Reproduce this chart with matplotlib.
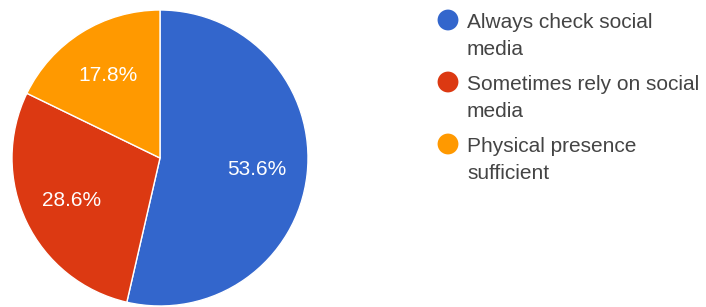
import matplotlib
matplotlib.use("Agg")
import matplotlib.pyplot as plt

labels = ["Always check social\nmedia", "Sometimes rely on social\nmedia", "Physical presence\nsufficient"]
values = [53.6, 28.6, 17.8]
colors = ["#3366cc", "#dc3912", "#ff9900"]

plt.rcParams['font.family'] = ['Liberation Sans', 'DejaVu Sans']

fig = plt.figure(figsize=(7.06, 3.07), dpi=100)

# pie: center ~ (160,159) px, radius ~148 px
ax = fig.add_axes([12/706, 1/307, 296/706, 296/307])
wedges, texts, autotexts = ax.pie(values, colors=colors, startangle=90, counterclock=False,
                                  autopct='%.1f%%', pctdistance=0.66,
                                  wedgeprops=dict(edgecolor='white', linewidth=1))
for t in autotexts:
    t.set_color('white')
    t.set_fontsize(15)
ax.set_xlim(-1, 1)
ax.set_ylim(-1, 1)
ax.set_aspect('equal')

# legend drawn in pixel coords
lg = fig.add_axes([0, 0, 1, 1])
lg.set_xlim(0, 706)
lg.set_ylim(307, 0)
lg.axis('off')
for i, (lab, c) in enumerate(zip(labels, colors)):
    y0 = 28 + 62 * i
    lg.scatter([448], [y0 - 8], s=225, color=c, edgecolors='none')
    for j, line in enumerate(lab.split("\n")):
        lg.text(467, y0 + 27 * j, line, fontsize=15, color='#444444', va='baseline', ha='left')

fig.savefig("out.png", dpi=100)
